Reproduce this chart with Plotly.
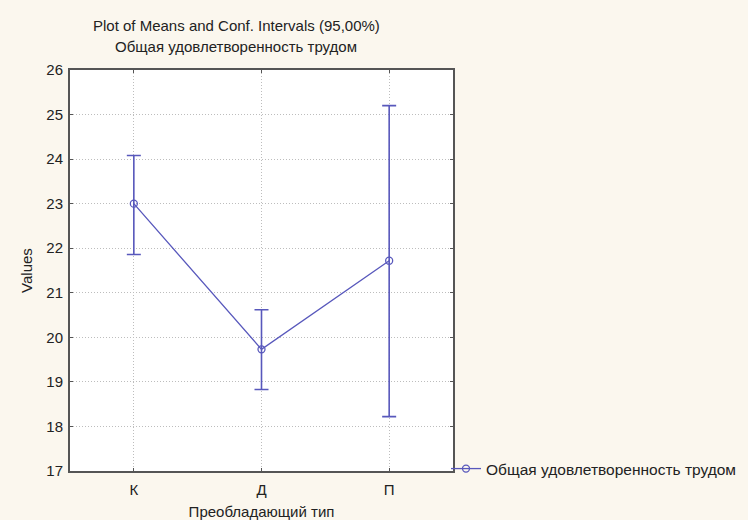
import plotly.graph_objects as go

categories = ["К", "Д", "П"]
means = [23.0, 19.73, 21.72]
upper = [24.08, 20.62, 25.2]
lower = [21.86, 18.83, 18.22]
series_name = "Общая удовлетворенность трудом"
y_ticks = [17, 18, 19, 20, 21, 22, 23, 24, 25, 26]

err_plus = [u - m for u, m in zip(upper, means)]
err_minus = [m - l for m, l in zip(means, lower)]

color = "#5858BC"
font = "Liberation Sans, Arial, sans-serif"

L, R, T, B = 70, 295, 70, 49
W, H = 748, 520
plot_w = W - L - R
plot_h = H - T - B

def px_x(x):
    return (x - L) / plot_w

def px_y(y):
    return (H - B - y) / plot_h

fig = go.Figure()
fig.add_trace(go.Scatter(
    x=categories, y=means, mode="lines+markers", name=series_name,
    line=dict(color=color, width=1.3),
    marker=dict(symbol="circle-open", size=7, color=color, line=dict(width=1.3, color=color)),
    error_y=dict(type="data", symmetric=False, array=err_plus, arrayminus=err_minus,
                 color=color, thickness=1.6, width=7),
))

fig.update_layout(
    width=W, height=H,
    margin=dict(l=L, r=R, t=T, b=B, autoexpand=False),
    paper_bgcolor="#FBF7EE", plot_bgcolor="#FFFFFF",
    font=dict(family=font, size=15, color="#222222"),
    showlegend=True,
    legend=dict(x=px_x(446), y=px_y(469), xanchor="left", yanchor="middle",
                bgcolor="rgba(0,0,0,0)", font=dict(size=15.5), itemwidth=30),
    annotations=[
        dict(text="Plot of Means and Conf. Intervals (95,00%)", x=px_x(236), y=px_y(25),
             xref="paper", yref="paper", showarrow=False, xanchor="center", yanchor="middle",
             font=dict(size=15)),
        dict(text="Общая удовлетворенность трудом", x=px_x(236), y=px_y(47),
             xref="paper", yref="paper", showarrow=False, xanchor="center", yanchor="middle",
             font=dict(size=15)),
    ],
)

fig.update_xaxes(
    type="category", range=[-0.5, 2.5], automargin=False,
    showgrid=True, gridcolor="#BDBDBD", griddash="1px,2px", gridwidth=1,
    showline=True, linecolor="#555555", linewidth=2, mirror="allticks",
    ticks="inside", ticklen=3, tickcolor="#555555", ticklabelstandoff=4,
    title=dict(text="Преобладающий тип", standoff=10, font=dict(size=15)),
    tickfont=dict(size=15), zeroline=False,
)
fig.update_yaxes(
    range=[17, 26], tickvals=y_ticks, automargin=False,
    showgrid=True, gridcolor="#BDBDBD", griddash="1px,2px", gridwidth=1,
    showline=True, linecolor="#555555", linewidth=2, mirror="allticks",
    ticks="inside", ticklen=3, tickcolor="#555555", ticklabelstandoff=2,
    title=dict(text="Values", standoff=10, font=dict(size=15)),
    tickfont=dict(size=15), zeroline=False,
)

fig.write_html("out.html", post_script="document.body.style.margin='0';",
               config={"displayModeBar": False})
